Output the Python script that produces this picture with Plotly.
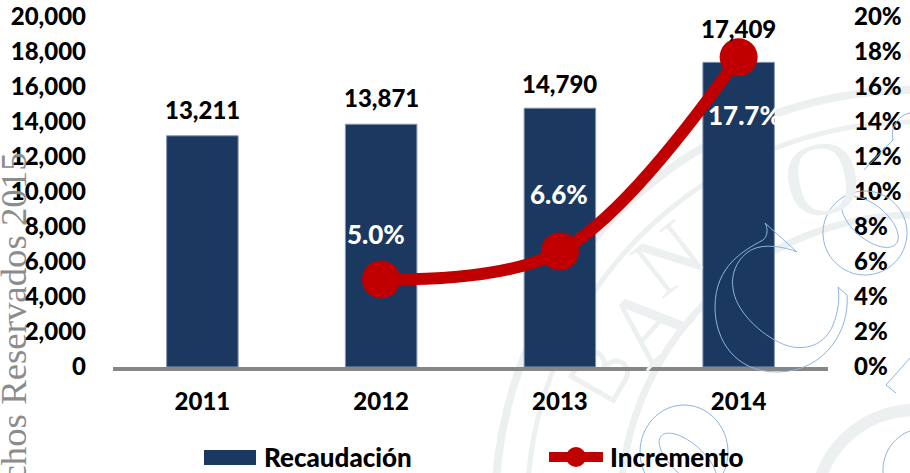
import math
import plotly.graph_objects as go

years = ["2011", "2012", "2013", "2014"]
recaudacion = [13211, 13871, 14790, 17409]
incremento_years = ["2012", "2013", "2014"]
incremento = [5.0, 6.6, 17.7]
left_ticks = list(range(0, 20001, 2000))
left_labels = [f"{v:,}" for v in left_ticks]
right_ticks = list(range(0, 21, 2))
right_labels = [f"{v}%" for v in right_ticks]
bar_label_shift = [26, 27, 25, 34]
line_label_shift = [(-5, 46), (-1, 58), (6, -58)]

# position of each year on the x axis
x_pos = {y: i for i, y in enumerate(years)}
bar_x = [x_pos[y] for y in years]
line_x = [x_pos[y] for y in incremento_years]

W, H = 910, 473
ML, MR, MT, MB = 113, 82, 17, 106
FONT = "Lato"
NAVY = "#1A3860"
RED = "#C00000"
SEAL = "#ECF0F1"
BLUEC = "#8DB4E2"
WEIGHT = 900


def px(x):
    return (x - ML) / (W - ML - MR)


def py(y):
    return (H - MB - y) / (H - MT - MB)


def path(cmds):
    out = []
    for c in cmds:
        if isinstance(c, str):
            out.append(c)
        else:
            out.append(f"{px(c[0]):.4f},{py(c[1]):.4f}")
    return " ".join(out)


def outline(cmds, color=BLUEC, width=1, layer="above"):
    return dict(type="path", xref="paper", yref="paper", layer=layer,
                line=dict(color=color, width=width), path=path(cmds))


def circle(cx, cy, r, w):
    return dict(type="circle", xref="paper", yref="paper", layer="below",
                x0=px(cx - r), x1=px(cx + r), y0=py(cy + r), y1=py(cy - r),
                line=dict(color=SEAL, width=w))


def ellipse(cx, cy, rx, ry, deg=0):
    k = 0.55
    t = math.radians(deg)

    def q(a, b):
        return (cx + a * math.cos(t) - b * math.sin(t), cy + a * math.sin(t) + b * math.cos(t))
    return outline(["M", q(-rx, 0),
                    "C", q(-rx, -ry * k), q(-rx * k, -ry), q(0, -ry),
                    "C", q(rx * k, -ry), q(rx, -ry * k), q(rx, 0),
                    "C", q(rx, ry * k), q(rx * k, ry), q(0, ry),
                    "C", q(-rx * k, ry), q(-rx, ry * k), q(-rx, 0), "Z"])


def letter_b(cx, cy, s, deg):
    t = math.radians(deg)

    def q(a, b):
        return (cx + s * (a * math.cos(t) - b * math.sin(t)), cy + s * (a * math.sin(t) + b * math.cos(t)))
    return outline(["M", q(-14, -22), "L", q(-14, 22), "L", q(8, 22),
                    "C", q(24, 22), q(24, 1), q(6, 0), "C", q(20, -2), q(20, -22), q(4, -22), "Z"],
                   color=SEAL, width=5, layer="below")


big_c = ["M", (765, 223), "L", (797, 252), "C", (785, 247), (770, 245), (760, 247),
         "C", (742, 250), (730, 270), (733, 288), "C", (735, 310), (760, 335), (785, 345),
         "C", (805, 352), (825, 345), (833, 325), "C", (838, 312), (840, 300), (838, 287),
         "L", (847, 295), "C", (850, 330), (825, 372), (777, 372),
         "C", (735, 372), (715, 340), (715, 307), "C", (715, 265), (745, 250), (763, 240),
         "C", (768, 236), (768, 228), (765, 223), "Z"]

shapes = [
    circle(915, 510, 420, 8),
    circle(915, 510, 388, 5),
    circle(915, 510, 295, 7),
    circle(915, 510, 100, 12),
    letter_b(600, 375, 1.1, -60),
    outline(big_c),
    ellipse(865, 233, 42, 42),
    ellipse(870, 222, 34, 17, 40),
    ellipse(684, 452, 44, 47),
    ellipse(688, 460, 36, 16, 42),
    ellipse(925, 470, 42, 42),
    outline(["M", (896, 393), "L", (886, 385), "L", (910, 358)]),
    outline(["M", (864, 170), "L", (893, 140), "C", (890, 125), (900, 115), (910, 113)]),
    # legend keys
    dict(type="rect", xref="paper", yref="paper", x0=px(204), x1=px(256), y0=py(465), y1=py(450),
         fillcolor=NAVY, line=dict(width=0)),
    dict(type="line", xref="paper", yref="paper", x0=px(549), x1=px(603), y0=py(457), y1=py(457),
         line=dict(color=RED, width=10)),
    dict(type="circle", xref="paper", yref="paper", x0=px(566), x1=px(586), y0=py(467), y1=py(447),
         fillcolor=RED, line=dict(width=0)),
]

fig = go.Figure()
fig.add_trace(go.Bar(x=bar_x, y=recaudacion, name="Recaudación", width=0.4,
                     marker=dict(color=NAVY, line=dict(color="#8496B0", width=1))))
fig.add_trace(go.Scatter(x=line_x, y=incremento, name="Incremento", yaxis="y2",
                         mode="lines+markers", line=dict(color=RED, width=12, shape="spline", smoothing=1.0),
                         marker=dict(color=RED, size=38)))

annotations = []
seal_letters = [("A", 646, 323, -48, 100), ("N", 668, 258, -38, 86), ("O", 822, 178, -12, 105)]
for t, x, y, a, sz in seal_letters:
    annotations.append(dict(xref="paper", yref="paper", x=px(x), y=py(y), text=t, showarrow=False, textangle=a,
                            xanchor="center", yanchor="middle",
                            font=dict(family="Liberation Serif", size=sz, color=SEAL, weight=400)))
for xv, v, s in zip(bar_x, recaudacion, bar_label_shift):
    annotations.append(dict(xref="x", x=xv, y=v, yref="y", text=f"{v:,}", showarrow=False, yshift=s,
                            xanchor="center", yanchor="middle",
                            font=dict(family=FONT, size=24, color="black", weight=WEIGHT)))
for xv, v, (dx, s) in zip(line_x, incremento, line_label_shift):
    annotations.append(dict(xref="x", x=xv, y=v, yref="y2", text=f"{v:.1f}%", showarrow=False, xshift=dx, yshift=s,
                            xanchor="center", yanchor="middle",
                            font=dict(family=FONT, size=26, color="white", weight=WEIGHT)))
annotations.append(dict(xref="paper", yref="paper", x=px(13), y=py(353), text="Derechos Reservados 2015",
                        showarrow=False, textangle=-90, xanchor="center", yanchor="middle",
                        font=dict(family="Liberation Serif", size=36.8, color="#8C8C8C", weight=400)))
annotations.append(dict(xref="paper", yref="paper", x=px(262), y=py(457), text="Recaudación", showarrow=False,
                        xanchor="left", yanchor="middle",
                        font=dict(family=FONT, size=26, color="black", weight=WEIGHT)))
annotations.append(dict(xref="paper", yref="paper", x=px(608), y=py(457), text="Incremento", showarrow=False,
                        xanchor="left", yanchor="middle",
                        font=dict(family=FONT, size=26, color="black", weight=WEIGHT)))

tick_font = dict(family=FONT, size=24, color="black", weight=WEIGHT)
fig.update_layout(
    width=W, height=H, autosize=False, paper_bgcolor="white", plot_bgcolor="rgba(0,0,0,0)",
    margin=dict(l=ML, r=MR, t=MT, b=MB, autoexpand=False),
    font=dict(family=FONT, size=24, color="black"),
    shapes=shapes, annotations=annotations, showlegend=False,
    xaxis=dict(range=[-0.5, 3.5], tickmode="array", tickvals=bar_x, ticktext=years, showgrid=False, ticks="",
               showline=True, linecolor="#868686", linewidth=4, ticklabelstandoff=10,
               tickfont=tick_font, zeroline=False),
    yaxis=dict(range=[0, 20000], tickmode="array", tickvals=left_ticks, ticktext=left_labels, showgrid=False,
               zeroline=False, ticks="", ticklabelstandoff=26, showline=False, tickfont=tick_font,
               ticklabeloverflow="allow"),
    yaxis2=dict(range=[0, 20], overlaying="y", side="right", tickmode="array", tickvals=right_ticks,
                ticktext=right_labels, showgrid=False, zeroline=False, ticks="", ticklabelstandoff=25,
                showline=False, tickfont=tick_font, ticklabeloverflow="allow"),
)
# the page's default 8px body margin would push the figure out of the window
fig.write_html("out.html", config={"displayModeBar": False},
               post_script="document.body.style.margin='0';document.body.style.overflow='hidden';")
